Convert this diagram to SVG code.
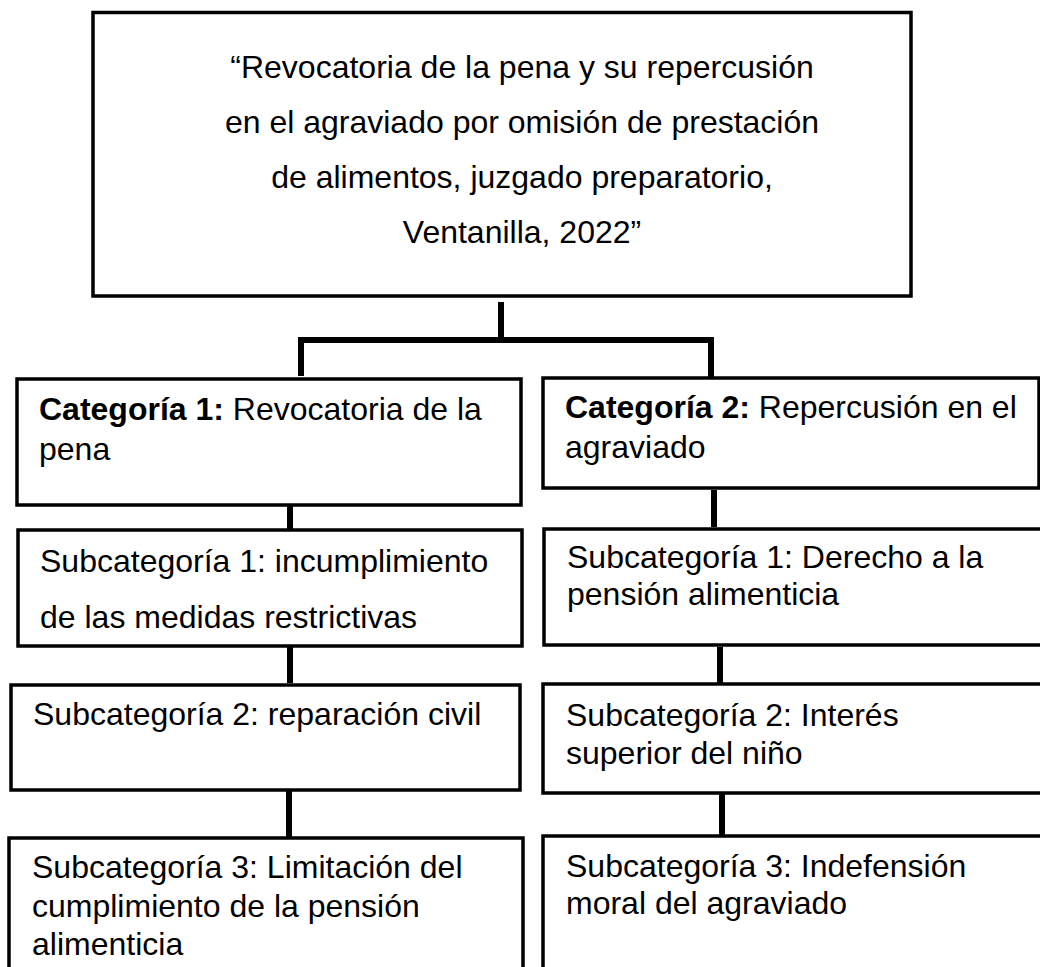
<svg xmlns="http://www.w3.org/2000/svg" width="1040" height="967" viewBox="0 0 1040 967">
<style>
.box{fill:#fff;stroke:#000;stroke-width:3.5}
.con{stroke:#000;stroke-width:6;fill:none}
text{font-family:"Liberation Sans",Arial,sans-serif;font-size:32px;fill:#000}
.c{text-anchor:middle}
.b{font-weight:bold}
</style>
<rect width="1040" height="967" fill="#fff"/>
<g id="connectors">
<line class="con" x1="501" y1="302" x2="501" y2="338"/>
<polyline class="con" points="301,376 301,340 711,340 711,377"/>
<line class="con" x1="290" y1="505" x2="290" y2="529"/>
<line class="con" x1="714" y1="490" x2="714" y2="527"/>
<line class="con" x1="290" y1="647" x2="290" y2="683"/>
<line class="con" x1="289" y1="791" x2="289" y2="837"/>
<line class="con" x1="720" y1="647" x2="720" y2="683"/>
<line class="con" x1="722" y1="794" x2="722" y2="835"/>
</g>
<g id="title">
<rect class="box" x="93" y="12.5" width="818" height="283.5"/>
<text class="c" x="522" y="78">“Revocatoria de la pena y su repercusión</text>
<text class="c" x="522" y="133">en el agraviado por omisión de prestación</text>
<text class="c" x="522" y="188">de alimentos, juzgado preparatorio,</text>
<text class="c" x="522" y="243">Ventanilla, 2022”</text>
</g>
<g id="cat1">
<rect class="box" x="17" y="379" width="504" height="126"/>
<text x="39" y="420"><tspan class="b">Categoría 1:</tspan> Revocatoria de la</text>
<text x="39" y="460">pena</text>
</g>
<g id="cat2">
<rect class="box" x="543" y="378" width="496" height="110"/>
<text x="565" y="418"><tspan class="b">Categoría 2:</tspan> Repercusión en el</text>
<text x="565" y="458">agraviado</text>
</g>
<g id="sub1-left">
<rect class="box" x="18" y="530" width="504" height="116"/>
<text x="40" y="572">Subcategoría 1: incumplimiento</text>
<text x="40" y="628">de las medidas restrictivas</text>
</g>
<g id="sub1-right">
<rect class="box" x="544" y="529" width="510" height="116"/>
<text x="567" y="568">Subcategoría 1: Derecho a la</text>
<text x="567" y="605">pensión alimenticia</text>
</g>
<g id="sub2-left">
<rect class="box" x="11" y="685" width="509" height="105"/>
<text x="33" y="725">Subcategoría 2: reparación civil</text>
</g>
<g id="sub2-right">
<rect class="box" x="543" y="684" width="510" height="109"/>
<text x="566" y="726">Subcategoría 2: Interés</text>
<text x="566" y="764">superior del niño</text>
</g>
<g id="sub3-left">
<rect class="box" x="9" y="838" width="514" height="150"/>
<text x="32" y="878">Subcategoría 3: Limitación del</text>
<text x="32" y="917">cumplimiento de la pensión</text>
<text x="32" y="955">alimenticia</text>
</g>
<g id="sub3-right">
<rect class="box" x="543" y="836" width="510" height="150"/>
<text x="566" y="877">Subcategoría 3: Indefensión</text>
<text x="566" y="914">moral del agraviado</text>
</g>
</svg>
